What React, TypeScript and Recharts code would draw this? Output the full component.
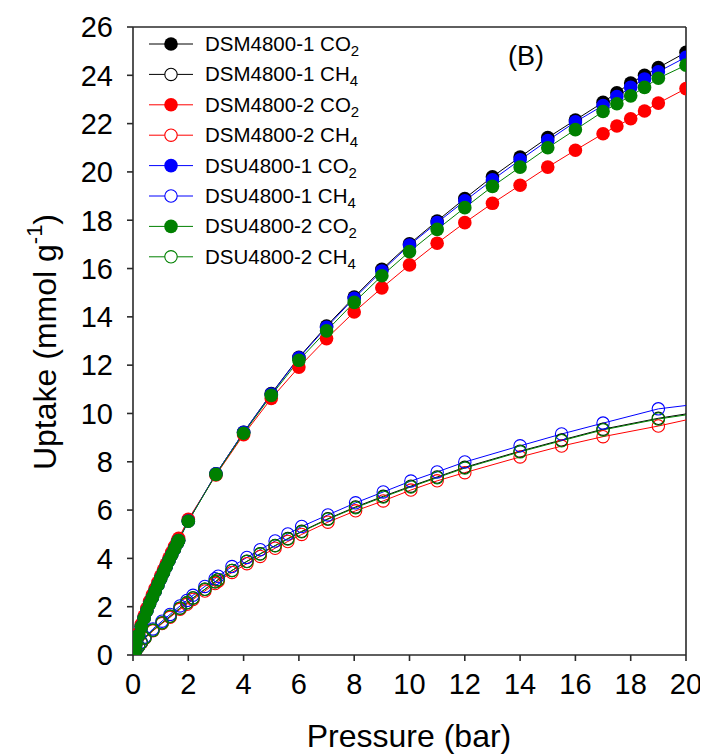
import React from "react";
import { LineChart, Line, XAxis, YAxis, ReferenceLine } from "recharts";

// ---- Data ----
const co2Pressure = [
  0.02, 0.05, 0.1, 0.2, 0.3, 0.4, 0.5, 0.6, 0.7, 0.8, 0.9, 1.0, 1.1, 1.2, 1.3, 1.4, 1.5, 1.6, 1.65,
  2, 3, 4, 5, 6, 7, 8, 9, 10, 11, 12, 13, 14, 15, 16, 17, 17.5, 18, 18.5, 19, 20,
];
const dsm1CO2 = [
  0.09, 0.22, 0.43, 0.82, 1.18, 1.52, 1.83, 2.12, 2.38, 2.64, 2.9, 3.16, 3.41, 3.66, 3.91, 4.15, 4.39, 4.63, 4.74,
  5.55, 7.5, 9.22, 10.82, 12.32, 13.62, 14.82, 15.97, 17.02, 17.97, 18.9, 19.8, 20.62, 21.42, 22.15, 22.88, 23.28, 23.68, 24.0, 24.32, 24.95,
];
const dsm2CO2 = [
  0.1, 0.25, 0.48, 0.9, 1.27, 1.61, 1.93, 2.22, 2.49, 2.75, 3.01, 3.27, 3.52, 3.77, 4.01, 4.25, 4.49, 4.72, 4.83,
  5.62, 7.45, 9.12, 10.62, 11.92, 13.1, 14.2, 15.2, 16.15, 17.05, 17.9, 18.7, 19.45, 20.2, 20.9, 21.58, 21.9, 22.2, 22.52, 22.85, 23.45,
];
const dsu1CO2 = [
  0.09, 0.22, 0.43, 0.82, 1.18, 1.52, 1.83, 2.12, 2.38, 2.64, 2.9, 3.16, 3.41, 3.66, 3.91, 4.15, 4.39, 4.63, 4.74,
  5.55, 7.5, 9.22, 10.8, 12.3, 13.57, 14.77, 15.9, 16.97, 17.9, 18.8, 19.67, 20.5, 21.3, 22.07, 22.75, 23.12, 23.5, 23.85, 24.15, 24.75,
];
const dsu2CO2 = [
  0.09, 0.22, 0.43, 0.82, 1.18, 1.52, 1.83, 2.12, 2.38, 2.64, 2.9, 3.16, 3.41, 3.66, 3.91, 4.15, 4.39, 4.63, 4.74,
  5.54, 7.48, 9.18, 10.75, 12.2, 13.42, 14.6, 15.7, 16.7, 17.62, 18.52, 19.4, 20.2, 21.0, 21.75, 22.5, 22.82, 23.15, 23.5, 23.88, 24.42,
];

const ch4Pressure = [
  0.05, 0.1, 0.2, 0.3, 0.43, 0.72, 1.05, 1.34, 1.7, 1.95, 2.17, 2.6, 2.97, 3.08, 3.58, 4.12, 4.6, 5.14, 5.6, 6.1,
  7.05, 8.05, 9.05, 10.05, 11, 12, 14, 15.5, 17, 19, 20,
];
const ch4LastMeasured = 19; // points beyond this are fitted-line only (no marker)
const dsm1CH4 = [
  0.09, 0.18, 0.35, 0.51, 0.7, 1.02, 1.33, 1.6, 1.94, 2.16, 2.36, 2.72, 3.03, 3.12, 3.5, 3.88, 4.19, 4.53, 4.82, 5.12,
  5.64, 6.13, 6.57, 6.99, 7.37, 7.77, 8.44, 8.9, 9.35, 9.8, 9.98,
];
const dsm2CH4 = [
  0.09, 0.18, 0.35, 0.5, 0.69, 1.0, 1.3, 1.56, 1.89, 2.1, 2.3, 2.65, 2.96, 3.05, 3.42, 3.78, 4.08, 4.42, 4.7, 4.99,
  5.5, 5.97, 6.38, 6.83, 7.21, 7.55, 8.2, 8.65, 9.04, 9.48, 9.73,
];
const dsu1CH4 = [
  0.1, 0.19, 0.37, 0.54, 0.74, 1.08, 1.4, 1.68, 2.03, 2.26, 2.47, 2.84, 3.16, 3.26, 3.66, 4.04, 4.36, 4.72, 5.01, 5.32,
  5.8, 6.3, 6.75, 7.2, 7.58, 7.99, 8.66, 9.15, 9.6, 10.19, 10.33,
];
const dsu2CH4 = [
  0.09, 0.18, 0.35, 0.51, 0.7, 1.02, 1.33, 1.6, 1.94, 2.16, 2.36, 2.72, 3.03, 3.12, 3.5, 3.87, 4.18, 4.52, 4.8, 5.1,
  5.62, 6.1, 6.54, 6.96, 7.34, 7.74, 8.41, 8.87, 9.32, 9.77, 9.94,
];

const xTicks = [0, 2, 4, 6, 8, 10, 12, 14, 16, 18, 20];
const yTicks = [0, 2, 4, 6, 8, 10, 12, 14, 16, 18, 20, 22, 24, 26];

const sampleNames = ["DSM4800-1", "DSM4800-1", "DSM4800-2", "DSM4800-2", "DSU4800-1", "DSU4800-1", "DSU4800-2", "DSU4800-2"];
const gasNames = ["CO", "CH", "CO", "CH", "CO", "CH", "CO", "CH"];
const gasSubs = ["2", "4", "2", "4", "2", "4", "2", "4"];
const seriesColors = ["#000000", "#000000", "#ff0000", "#ff0000", "#0000ff", "#0000ff", "#008000", "#008000"];
const seriesFilled = [true, false, true, false, true, false, true, false];

const toRows = (ps: number[], us: number[]) => ps.map((p, i) => ({ p, u: us[i] }));

const series = [
  { rows: toRows(co2Pressure, dsm1CO2) },
  { rows: toRows(ch4Pressure, dsm1CH4) },
  { rows: toRows(co2Pressure, dsm2CO2) },
  { rows: toRows(ch4Pressure, dsm2CH4) },
  { rows: toRows(co2Pressure, dsu1CO2) },
  { rows: toRows(ch4Pressure, dsu1CH4) },
  { rows: toRows(co2Pressure, dsu2CO2) },
  { rows: toRows(ch4Pressure, dsu2CH4) },
];

const FONT = "'Liberation Sans', Arial, Helvetica, sans-serif";
const W = 700;
const H = 748;
const R_FILLED = 6.8;
const R_OPEN = 6.2;

const makeDot = (color: string, filled: boolean, sid: number) => (props: any) => {
  const { cx, cy, index, payload } = props;
  const key = `d-${sid}-${index}`;
  if (cx == null || cy == null) return <g key={key} />;
  if (filled) {
    return <circle key={key} cx={cx} cy={cy} r={R_FILLED} fill={color} stroke="none" />;
  }
  if (payload && payload.p > ch4LastMeasured) return <g key={key} />;
  return <circle key={key} cx={cx} cy={cy} r={R_OPEN} fill="none" stroke={color} strokeWidth={1.1} />;
};

export default function App() {
  return (
    <div style={{ position: "relative", width: W, height: H, fontFamily: FONT }}>
      <LineChart width={W} height={H} margin={{ top: 19, right: 22, left: 0, bottom: 0 }}>
        <XAxis
          type="number"
          dataKey="p"
          domain={[0, 20]}
          ticks={xTicks}
          allowDataOverflow
          height={101}
          stroke="#2a2a2a"
          strokeWidth={1.6}
          tickSize={6}
          tickMargin={12}
          tick={{ fill: "#000", fontSize: 29, fontFamily: FONT }}
        />
        <YAxis
          type="number"
          domain={[0, 26]}
          ticks={yTicks}
          allowDataOverflow
          width={125}
          stroke="#2a2a2a"
          strokeWidth={1.6}
          tickSize={6}
          tickMargin={14}
          tick={{ fill: "#000", fontSize: 29, fontFamily: FONT }}
        />
        <ReferenceLine y={26} stroke="#2a2a2a" strokeWidth={1.6} />
        <ReferenceLine x={20} stroke="#2a2a2a" strokeWidth={1.6} />
        {series.map((s, i) => (
          <Line
            key={i}
            data={s.rows}
            dataKey="u"
            type="linear"
            stroke={seriesColors[i]}
            strokeWidth={1}
            dot={makeDot(seriesColors[i], seriesFilled[i], i)}
            activeDot={false}
            isAnimationActive={false}
            legendType="none"
          />
        ))}
      </LineChart>
      <svg
        width={W}
        height={H}
        style={{ position: "absolute", left: 0, top: 0, pointerEvents: "none" }}
        fontFamily={FONT}
      >
        {/* Axis titles */}
        <text x={401} y={739} textAnchor="middle" fontSize={32} fill="#000">
          Pressure (bar)
        </text>
        <text transform="translate(48,334) rotate(-90)" textAnchor="middle" fontSize={32} fill="#000">
          Uptake (mmol g
          <tspan fontSize={22} dy={-14}>-1</tspan>
          <tspan dy={14}>)</tspan>
        </text>
        {/* Panel label */}
        <text x={518} y={57} textAnchor="middle" fontSize={27} fill="#000">
          (B)
        </text>
        {/* Legend */}
        {sampleNames.map((name, i) => {
          const cy = 36 + i * 30.4;
          const c = seriesColors[i];
          return (
            <g key={`lg-${i}`}>
              <line x1={141} x2={185} y1={cy} y2={cy} stroke={c} strokeWidth={1} />
              {seriesFilled[i] ? (
                <circle cx={163} cy={cy} r={R_FILLED} fill={c} />
              ) : (
                <circle cx={163} cy={cy} r={R_OPEN} fill="#fff" stroke={c} strokeWidth={1.1} />
              )}
              <text x={197} y={cy + 7} fontSize={20.5} fill="#000">
                {name} {gasNames[i]}
                <tspan fontSize={15} dy={5}>{gasSubs[i]}</tspan>
              </text>
            </g>
          );
        })}
      </svg>
    </div>
  );
}
